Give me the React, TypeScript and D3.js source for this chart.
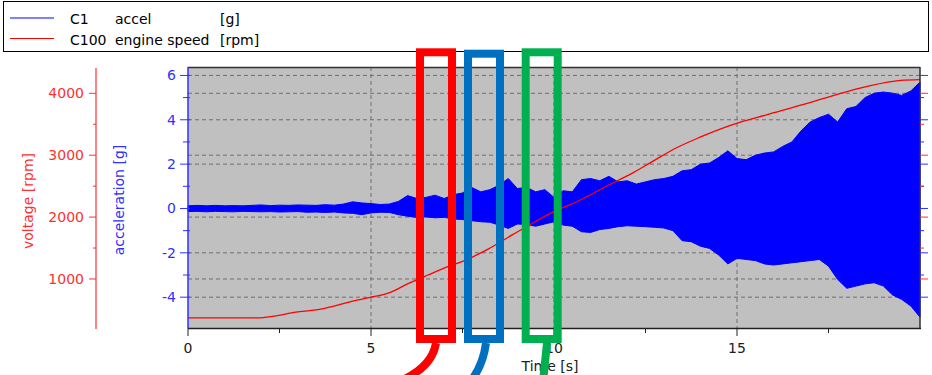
import React from "react";
import * as d3 from "d3";

// ---------- data ----------
const timeTicks = [0, 5, 10, 15];
const timeMinorTicks = [2.5, 7.5, 12.5, 17.5];
const accelTicks = [-4, -2, 0, 2, 4, 6];
const accelMinorTicks = [-3, -1, 1, 3, 5];
const rpmTicks = [1000, 2000, 3000, 4000];
const rpmMinorTicks = [1500, 2500, 3500];

const legendChannels = ["C1", "C100"];
const legendNames = ["accel", "engine speed"];
const legendUnits = ["[g]", "[rpm]"];

// engine speed [rpm]
const rpmTime = [0, 1.9, 2.35, 2.95, 3.5, 4.04, 4.5, 5.0, 5.47, 6.0, 6.56, 7.1, 7.65, 8.2, 8.74, 9.29, 9.97, 10.16, 10.8, 11.44, 12.08, 12.71, 13.35, 13.99, 14.63, 15.03, 15.83, 16.74, 17.65, 18.56, 19.47, 20];
const rpmValue = [372, 372, 400, 464, 500, 570, 641, 705, 770, 920, 1064, 1198, 1322, 1483, 1671, 1860, 2080, 2130, 2300, 2502, 2690, 2905, 3120, 3291, 3442, 3523, 3657, 3807, 3968, 4113, 4209, 4221];

// acceleration envelope [g]
const accelTime = [0, 0.25, 0.5, 0.75, 1, 1.25, 1.5, 1.75, 2, 2.25, 2.5, 2.75, 3, 3.25, 3.5, 3.75, 4, 4.25, 4.5, 4.75, 5, 5.25, 5.5, 5.75, 6, 6.25, 6.5, 6.75, 7, 7.25, 7.5, 7.75, 8, 8.25, 8.5, 8.75, 9, 9.25, 9.5, 9.75, 10, 10.25, 10.5, 10.75, 11, 11.25, 11.5, 11.75, 12, 12.25, 12.5, 12.75, 13, 13.25, 13.5, 13.75, 14, 14.25, 14.5, 14.75, 15, 15.25, 15.5, 15.75, 16, 16.25, 16.5, 16.75, 17, 17.25, 17.5, 17.75, 18, 18.25, 18.5, 18.75, 19, 19.25, 19.5, 19.75, 20];
const accelUpper = [0.12, 0.14, 0.12, 0.14, 0.12, 0.13, 0.12, 0.14, 0.16, 0.13, 0.15, 0.14, 0.16, 0.15, 0.14, 0.17, 0.15, 0.2, 0.3, 0.25, 0.22, 0.18, 0.2, 0.32, 0.58, 0.45, 0.5, 0.6, 0.45, 0.62, 0.7, 0.95, 0.75, 0.85, 1.05, 1.35, 0.9, 0.95, 0.75, 0.85, 0.5, 0.8, 0.75, 1.3, 1.35, 1.25, 1.45, 1.2, 1.25, 1.1, 1.2, 1.3, 1.35, 1.45, 1.7, 1.75, 2.0, 2.05, 2.3, 2.6, 2.25, 2.2, 2.4, 2.5, 2.55, 2.8, 3.0, 3.5, 3.9, 4.1, 4.25, 3.9, 4.5, 4.6, 5.0, 5.2, 5.25, 5.2, 5.1, 5.3, 5.7];
const accelLower = [-0.14, -0.13, -0.15, -0.13, -0.14, -0.15, -0.13, -0.14, -0.15, -0.14, -0.16, -0.15, -0.14, -0.17, -0.16, -0.18, -0.16, -0.2, -0.22, -0.28, -0.2, -0.17, -0.18, -0.28, -0.35, -0.4, -0.38, -0.42, -0.4, -0.47, -0.5, -0.55, -0.6, -0.62, -0.75, -0.9, -0.7, -0.72, -0.8, -0.7, -0.6, -0.75, -0.8, -1.05, -1.08, -0.95, -0.9, -0.82, -0.78, -0.8, -0.82, -0.85, -0.88, -1.0, -1.45, -1.5, -1.7, -1.8, -2.1, -2.5, -2.25, -2.3, -2.35, -2.5, -2.55, -2.5, -2.45, -2.4, -2.35, -2.3, -2.6, -3.2, -3.6, -3.5, -3.4, -3.35, -3.5, -3.9, -4.1, -4.4, -4.9];

// ---------- layout ----------
const W = 932;
const H = 375;
const PL = 188;
const PR = 920;
const PT = 67;
const PB = 328;
const FONT = "DejaVu Sans";
const BLUE = "#0000ff";
const AXBLUE = "#3030ff";
const RED = "#ff0000";
const AXRED = "#ff3030";
const GRID = "#6e6e6e";

export default function App() {
  const x = d3.scaleLinear().domain([0, 20]).range([PL, PR]);
  const yA = d3.scaleLinear().domain([-5.39, 6.38]).range([PB, PT]);
  const yR = d3.scaleLinear().domain([208, 4425]).range([PB, PT]);

  const accelData = accelTime.map((t, i) => ({ t, u: accelUpper[i], l: accelLower[i] }));
  const area = d3
    .area<{ t: number; u: number; l: number }>()
    .x((d) => x(d.t))
    .y0((d) => yA(d.l))
    .y1((d) => yA(d.u))
    .curve(d3.curveLinear);

  const rpmData = rpmTime.map((t, i) => ({ t, v: rpmValue[i] }));
  const line = d3
    .line<{ t: number; v: number }>()
    .x((d) => x(d.t))
    .y((d) => yR(d.v))
    .curve(d3.curveMonotoneX);

  const redAxisX = 96;

  return (
    <svg
      width={W}
      height={H}
      style={{ position: "absolute", left: 0, top: 0, background: "#fff" }}
      fontFamily={FONT}
    >
      {/* legend */}
      <rect x={3.5} y={1.5} width={925} height={50} fill="#fff" stroke="#000" />
      {legendChannels.map((c, i) => {
        const ly = 18 + i * 20.5;
        const col = i === 0 ? BLUE : RED;
        return (
          <g key={c}>
            <line x1={10} x2={54} y1={ly} y2={ly} stroke={col} strokeWidth={1} />
            <text x={70} y={ly + 6} fontSize={14} fill="#000">{c}</text>
            <text x={115} y={ly + 6} fontSize={14} fill="#000">{legendNames[i]}</text>
            <text x={220} y={ly + 6} fontSize={14} fill="#000">{legendUnits[i]}</text>
          </g>
        );
      })}

      {/* plot background */}
      <rect x={PL} y={PT} width={PR - PL} height={PB - PT} fill="#c0c0c0" />

      {/* grid */}
      {accelTicks.map((v) => (
        <line key={"ga" + v} x1={PL} x2={PR} y1={yA(v)} y2={yA(v)} stroke={GRID} strokeDasharray="4,3" />
      ))}
      {rpmTicks.map((v) => (
        <line key={"gr" + v} x1={PL} x2={PR} y1={yR(v)} y2={yR(v)} stroke={GRID} strokeDasharray="4,3" />
      ))}
      {timeTicks.filter((t) => t > 0).map((t) => (
        <line key={"gt" + t} x1={x(t)} x2={x(t)} y1={PT} y2={PB} stroke={GRID} strokeDasharray="4,3" />
      ))}

      {/* acceleration signal */}
      <path d={area(accelData) || ""} fill={BLUE} stroke={BLUE} strokeWidth={1} />

      {/* engine speed */}
      <path d={line(rpmData) || ""} fill="none" stroke={RED} strokeWidth={1.3} />

      {/* frame */}
      <line x1={PL} x2={PR} y1={PT + 0.5} y2={PT + 0.5} stroke="#303030" strokeWidth={1.5} />
      <line x1={PR} x2={PR} y1={PT} y2={PB} stroke="#303030" strokeWidth={1.5} />
      <line x1={PL} x2={PR + 1} y1={PB + 0.5} y2={PB + 0.5} stroke="#202020" strokeWidth={1.5} />
      <line x1={PL} x2={PL} y1={PT} y2={PB} stroke={AXBLUE} strokeWidth={1.5} />

      {/* x axis ticks */}
      {timeTicks.map((t) => (
        <g key={"xt" + t}>
          <line x1={x(t)} x2={x(t)} y1={PB} y2={PB + 8} stroke="#202020" />
          <text x={x(t)} y={353} fontSize={14} textAnchor="middle" fill="#202020">{t}</text>
        </g>
      ))}
      {timeMinorTicks.map((t) => (
        <line key={"xm" + t} x1={x(t)} x2={x(t)} y1={PB} y2={PB + 5} stroke="#202020" />
      ))}
      <text x={550} y={371} fontSize={14} textAnchor="middle" fill="#202020">Time [s]</text>

      {/* blue axis (left) */}
      {accelTicks.map((v) => (
        <g key={"ya" + v}>
          <line x1={PL - 8} x2={PL + 2} y1={yA(v)} y2={yA(v)} stroke={AXBLUE} />
          <text x={176} y={yA(v) + 5} fontSize={14} textAnchor="end" fill={AXBLUE}>{v}</text>
        </g>
      ))}
      {accelMinorTicks.map((v) => (
        <line key={"yam" + v} x1={PL - 5} x2={PL + 2} y1={yA(v)} y2={yA(v)} stroke={AXBLUE} />
      ))}
      <text
        transform={`translate(124,200) rotate(-90)`}
        fontSize={14}
        textAnchor="middle"
        fill={AXBLUE}
      >
        acceleration [g]
      </text>

      {/* red axis (left) */}
      <line x1={redAxisX} x2={redAxisX} y1={PT + 1} y2={PB + 1} stroke={AXRED} strokeWidth={1.2} />
      {rpmTicks.map((v) => (
        <g key={"yr" + v}>
          <line x1={redAxisX - 7} x2={redAxisX} y1={yR(v)} y2={yR(v)} stroke={AXRED} />
          <text x={84} y={yR(v) + 5} fontSize={14} textAnchor="end" fill={AXRED}>{v}</text>
        </g>
      ))}
      {rpmMinorTicks.map((v) => (
        <line key={"yrm" + v} x1={redAxisX - 3} x2={redAxisX} y1={yR(v)} y2={yR(v)} stroke={AXRED} />
      ))}
      <text
        transform={`translate(33,201) rotate(-90)`}
        fontSize={14}
        textAnchor="middle"
        fill={AXRED}
      >
        voltage [rpm]
      </text>

      {/* right-side mirrored ticks */}
      {accelTicks.map((v) => (
        <line key={"rya" + v} x1={PR} x2={PR + 8} y1={yA(v)} y2={yA(v)} stroke={AXBLUE} />
      ))}
      {accelMinorTicks.map((v) => (
        <line key={"ryam" + v} x1={PR} x2={PR + 4} y1={yA(v)} y2={yA(v)} stroke={AXBLUE} />
      ))}
      {rpmTicks.map((v) => (
        <line key={"ryr" + v} x1={PR} x2={PR + 8} y1={yR(v)} y2={yR(v)} stroke={AXRED} />
      ))}
      {rpmMinorTicks.map((v) => (
        <line key={"ryrm" + v} x1={PR} x2={PR + 4} y1={yR(v)} y2={yR(v)} stroke={AXRED} />
      ))}

      {/* annotation boxes */}
      <g fill="none" strokeWidth={8}>
        <rect x={420} y={52.3} width={32} height={286.7} stroke="#ff0000" />
        <path d="M436,343 Q432,368 398,382" stroke="#ff0000" />
        <rect x={468} y={53.7} width={32} height={285.3} stroke="#0070c0" />
        <path d="M486,343 Q483,366 470,382" stroke="#0070c0" />
        <rect x={525.7} y={52.3} width={32} height={286.7} stroke="#00b050" />
        <path d="M547,343 L543,382" stroke="#00b050" />
      </g>
    </svg>
  );
}
